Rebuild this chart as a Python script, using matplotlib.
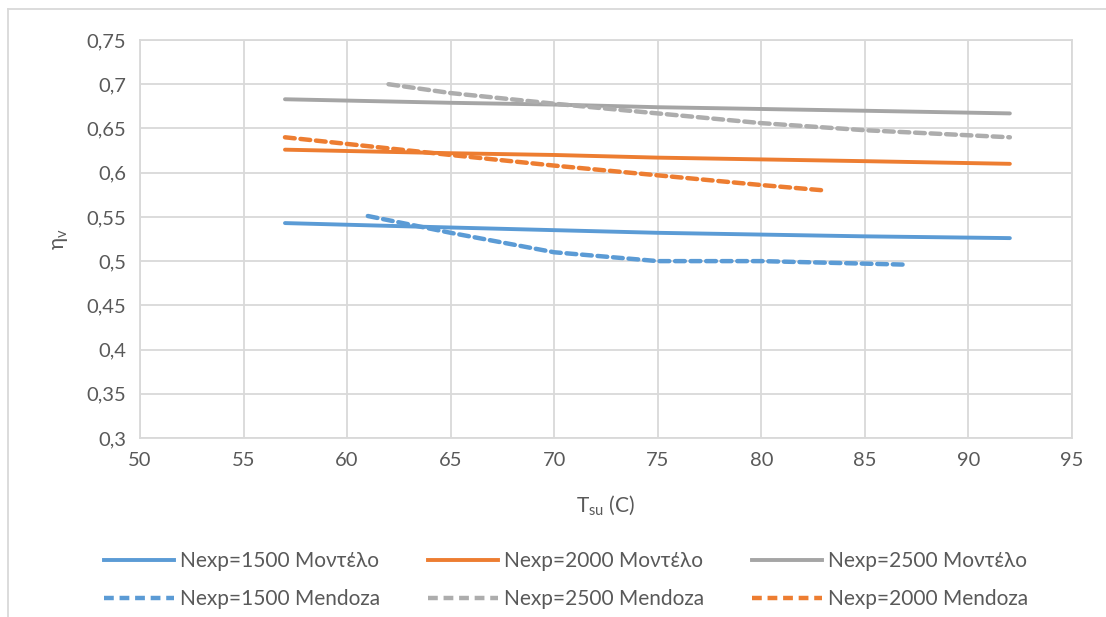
import matplotlib.pyplot as plt
from matplotlib.lines import Line2D

plt.rcParams['font.family'] = ['Lato', 'DejaVu Sans']

# model curves (solid)
t_model = [57, 65, 70, 75, 80, 85, 92]
model_1500 = [0.543, 0.538, 0.535, 0.532, 0.530, 0.528, 0.526]
model_2000 = [0.626, 0.622, 0.620, 0.617, 0.615, 0.613, 0.610]
model_2500 = [0.683, 0.679, 0.677, 0.674, 0.672, 0.670, 0.667]

# Mendoza curves (dashed)
t_mend_1500 = [61, 65, 70, 75, 80, 87]
mend_1500 = [0.551, 0.532, 0.510, 0.500, 0.500, 0.496]
t_mend_2000 = [57, 65, 70, 75, 80, 83]
mend_2000 = [0.640, 0.620, 0.608, 0.597, 0.586, 0.580]
t_mend_2500 = [62, 65, 70, 75, 80, 85, 92]
mend_2500 = [0.700, 0.690, 0.678, 0.667, 0.656, 0.648, 0.640]

blue = "#5B9BD5"
orange = "#ED7D31"
gray = "#A5A5A5"
text_col = "#595959"

fig = plt.figure(figsize=(11.06, 6.17), dpi=100)
ax = fig.add_axes([140/1106, 1-438/617, (1072-140)/1106, (438-40)/617])

lw = 2.8
dash = (0, (2.2, 1.3))
ax.plot(t_model, model_1500, color=blue, lw=lw, solid_capstyle='round')
ax.plot(t_model, model_2000, color=orange, lw=lw, solid_capstyle='round')
ax.plot(t_model, model_2500, color=gray, lw=lw, solid_capstyle='round')
ax.plot(t_mend_1500, mend_1500, color=blue, lw=3.2, ls=dash, dash_capstyle='round')
ax.plot(t_mend_2500, mend_2500, color="#ADADAD", lw=3.2, ls=dash, dash_capstyle='round')
ax.plot(t_mend_2000, mend_2000, color=orange, lw=3.2, ls=dash, dash_capstyle='round')

ax.set_xlim(50, 95)
ax.set_ylim(0.3, 0.75)
ax.set_xticks(range(50, 96, 5))
yt = [0.3 + 0.05*i for i in range(10)]
ax.set_yticks(yt)
ax.set_yticklabels([("%g" % round(v, 2)).replace('.', ',') for v in yt])
ax.grid(True, color="#D9D9D9", lw=1.3)
ax.set_axisbelow(True)
for s in ax.spines.values():
    s.set_color("#D9D9D9")
    s.set_linewidth(1.3)
ax.tick_params(length=0, labelsize=14.5, colors=text_col, pad=10)

ax.set_xlabel(r"T$_{\mathregular{su}}$ (C)", fontsize=15, color=text_col, labelpad=18)
ax.set_ylabel(r"η$_{\mathregular{v}}$", fontsize=15, color=text_col, labelpad=12)

handles = [
    Line2D([], [], color=blue, lw=lw),
    Line2D([], [], color=blue, lw=3.2, ls=dash),
    Line2D([], [], color=orange, lw=lw),
    Line2D([], [], color="#ADADAD", lw=3.2, ls=dash),
    Line2D([], [], color=gray, lw=lw),
    Line2D([], [], color=orange, lw=3.2, ls=dash),
]
labels = ["Nexp=1500 Μοντέλο", "Nexp=1500 Mendoza",
          "Nexp=2000 Μοντέλο", "Nexp=2500 Mendoza",
          "Nexp=2500 Μοντέλο", "Nexp=2000 Mendoza"]
leg = fig.legend(handles, labels, ncol=3, loc='center', bbox_to_anchor=(566/1106, 1-580/617),
                 frameon=False, fontsize=15, handlelength=3.35, handletextpad=0.3,
                 columnspacing=2.3, labelspacing=0.85, borderpad=0)
for t in leg.get_texts():
    t.set_color(text_col)

# chart outline
fig.add_artist(Line2D([8/1106, 8/1106], [0, 1-9/617], color="#D9D9D9", lw=1.3))
fig.add_artist(Line2D([8/1106, 1], [1-9/617, 1-9/617], color="#D9D9D9", lw=1.3))

fig.savefig("out.png", dpi=100)
